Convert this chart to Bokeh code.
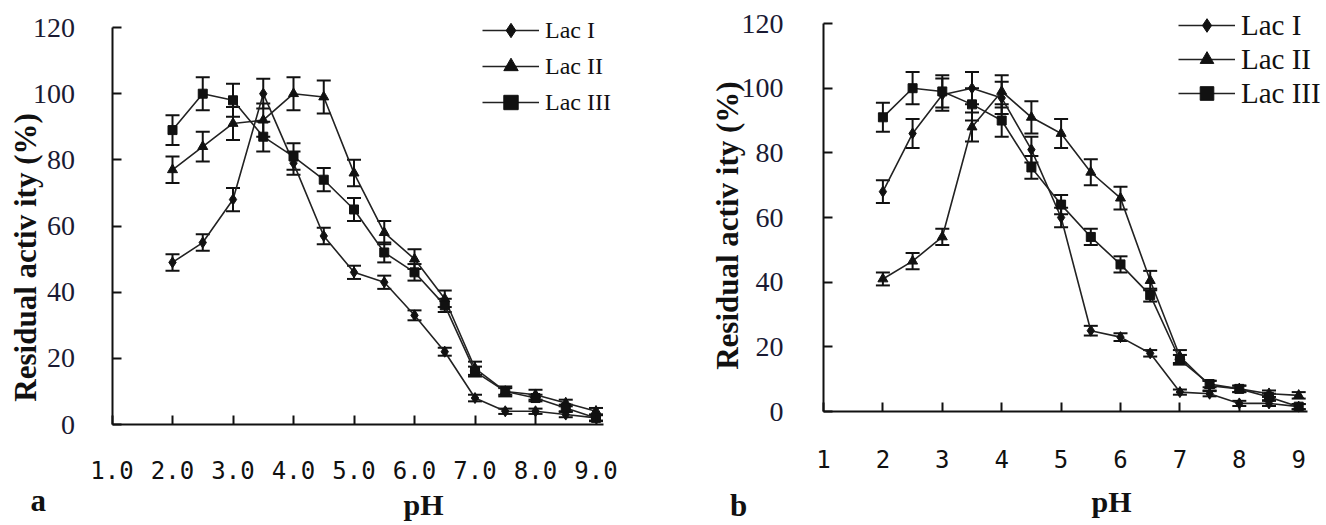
import math
from bokeh.plotting import figure
from bokeh.layouts import row
from bokeh.models import (ColumnDataSource, Whisker, TeeHead, Legend, LegendItem,
                          Label, FixedTicker, Range1d)
from bokeh.embed import file_html
from bokeh.resources import INLINE

# ---------------- data ----------------
ph = [2.0, 2.5, 3.0, 3.5, 4.0, 4.5, 5.0, 5.5, 6.0, 6.5, 7.0, 7.5, 8.0, 8.5, 9.0]
series_names = ["Lac I", "Lac II", "Lac III"]

# panel a
a_lac1 = [49, 55, 68, 100, 79, 57, 46, 43, 33, 22, 8, 4, 4, 3, 2]
a_lac2 = [77, 84, 91, 92, 100, 99, 76, 58, 50, 38, 17, 10, 9, 6.5, 4]
a_lac3 = [89, 100, 98, 87, 81, 74, 65, 52, 46, 36, 16, 10, 8, 5, 2]
a_err1 = [2.5, 2.5, 3.5, 4.5, 3.5, 2.5, 2, 2, 1.5, 1.2, 1, 0.8, 0.8, 0.8, 0.8]
a_err2 = [4, 4.5, 5, 5, 5, 5, 4, 3.5, 3, 2.5, 2, 1.5, 1.5, 1, 1]
a_err3 = [4.5, 5, 5, 4.5, 4, 3.5, 3.5, 3, 2.5, 2, 1.5, 1, 1, 1, 1]

# panel b
b_lac1 = [68, 86, 98, 100, 97, 81, 60, 25, 23, 18, 6, 5.5, 2.5, 2.5, 1.5]
b_lac2 = [41, 46.5, 54, 88, 99, 91, 86, 74, 66, 40.5, 17, 8, 7, 5.5, 5]
b_lac3 = [91, 100, 99, 95, 90, 75.5, 64, 54, 45.5, 36, 16, 8.5, 7, 4.5, 1.5]
b_err1 = [3.5, 4.5, 5, 5, 5, 4, 3, 1.5, 1.2, 1, 0.8, 0.8, 0.8, 0.8, 0.8]
b_err2 = [2, 2.5, 2.5, 4.5, 5, 5, 4.5, 4, 3.5, 3, 2, 1.5, 1, 1, 1]
b_err3 = [4.5, 5, 5, 5, 5, 3.5, 3, 2.5, 2.5, 2, 1.5, 1, 1, 1, 0.8]

y_ticks = [0, 20, 40, 60, 80, 100, 120]
x_ticks = [1, 2, 3, 4, 5, 6, 7, 8, 9]
a_x_labels = ["1.0", "2.0", "3.0", "4.0", "5.0", "6.0", "7.0", "8.0", "9.0"]
b_x_labels = ["1", "2", "3", "4", "5", "6", "7", "8", "9"]
y_title = "Residual activ ity (%)"

SERIF = "Liberation Serif"
MONO = "DejaVu Sans Mono"
INK = "#111111"
markers = ["diamond", "triangle", "square"]
msizes = [11, 10, 9]


def make_panel(width, height, xr, yr, xbounds, vals, errs, xlabels, xstand,
               ystand, ylab_pos, ph_pos, letter, letter_pos, leg_loc, leg_font,
               leg_row):
    p = figure(width=width, height=height, output_backend="svg",
               toolbar_location=None, x_range=Range1d(*xr),
               y_range=Range1d(*yr), min_border_left=0, min_border_right=0,
               min_border_top=0, min_border_bottom=0)
    p.outline_line_color = None
    p.grid.visible = False
    p.background_fill_color = "white"
    p.border_fill_color = "white"

    for ax in (p.xaxis[0], p.yaxis[0]):
        ax.axis_line_color = INK
        ax.axis_line_width = 2
        ax.major_tick_line_color = INK
        ax.major_tick_line_width = 2
        ax.major_tick_in = 9
        ax.major_tick_out = 0
        ax.minor_tick_line_color = None

    p.yaxis.fixed_location = 1
    p.yaxis.bounds = (0, 120)
    p.yaxis.ticker = FixedTicker(ticks=y_ticks)
    p.yaxis.major_label_text_font = SERIF
    p.yaxis.major_label_text_font_size = "28px"
    p.yaxis.major_label_text_color = "#1a1a33"
    p.yaxis.major_label_standoff = ystand

    p.xaxis.fixed_location = 0
    p.xaxis.bounds = xbounds
    p.xaxis.ticker = FixedTicker(ticks=x_ticks)
    p.xaxis.major_label_overrides = {t: l for t, l in zip(x_ticks, xlabels)}
    p.xaxis.major_label_text_font = MONO
    p.xaxis.major_label_text_font_size = "24px"
    p.xaxis.major_label_text_color = INK
    p.xaxis.major_label_standoff = xstand

    items = []
    for name, v, e, m, ms in zip(series_names, vals, errs, markers, msizes):
        src = ColumnDataSource(dict(x=ph, y=v,
                                    lo=[a - b for a, b in zip(v, e)],
                                    hi=[a + b for a, b in zip(v, e)]))
        w = Whisker(source=src, base="x", upper="hi", lower="lo",
                    line_color=INK, line_width=2,
                    upper_head=TeeHead(size=14, line_color=INK, line_width=2),
                    lower_head=TeeHead(size=14, line_color=INK, line_width=2))
        p.add_layout(w)
        lr = p.line("x", "y", source=src, line_color="#222222", line_width=1.6)
        sr = p.scatter("x", "y", source=src, marker=m, size=ms,
                       fill_color=INK, line_color=INK)
        items.append(LegendItem(label=name, renderers=[lr, sr]))

    leg = Legend(items=items, location=leg_loc, glyph_width=57,
                 glyph_height=leg_row, label_height=leg_row, spacing=0,
                 padding=0, margin=0, label_standoff=6,
                 label_text_font=SERIF, label_text_font_size=leg_font,
                 label_text_color=INK, border_line_color=None,
                 background_fill_alpha=0)
    p.add_layout(leg)

    p.add_layout(Label(x=ylab_pos[0], y=ylab_pos[1], text=y_title,
                       angle=math.pi / 2, text_align="center",
                       text_baseline="middle", text_font=SERIF,
                       text_font_style="bold", text_font_size="31px",
                       text_color=INK))
    p.add_layout(Label(x=ph_pos[0], y=ph_pos[1], text="pH", text_align="center",
                       text_baseline="middle", text_font=SERIF,
                       text_font_style="bold", text_font_size="30px",
                       text_color=INK))
    p.add_layout(Label(x=letter_pos[0], y=letter_pos[1], text=letter,
                       text_align="center", text_baseline="middle",
                       text_font=SERIF, text_font_style="bold",
                       text_font_size="31px", text_color=INK))
    return p


pa = make_panel(660, 525, (-0.843, 10.066), (-30.53, 128.17), (1, 9.12),
                [a_lac1, a_lac2, a_lac3], [a_err1, a_err2, a_err3], a_x_labels,
                36, 37, (-0.43, 50.5), (6.15, -24.2), "a", (-0.22, -23.0),
                (482, 405), "24px", 36)
pb = make_panel(666, 525, (-1.744, 9.468), (-35.26, 127.13), (1, 9.15),
                [b_lac1, b_lac2, b_lac3], [b_err1, b_err2, b_err3], b_x_labels,
                38, 40, (-0.62, 57.5), (5.85, -27.8), "b", (-0.43, -29.1),
                (518, 415), "29px", 34)

layout = row(pa, pb, spacing=0)
open("out.html", "w").write(file_html(layout, INLINE))
